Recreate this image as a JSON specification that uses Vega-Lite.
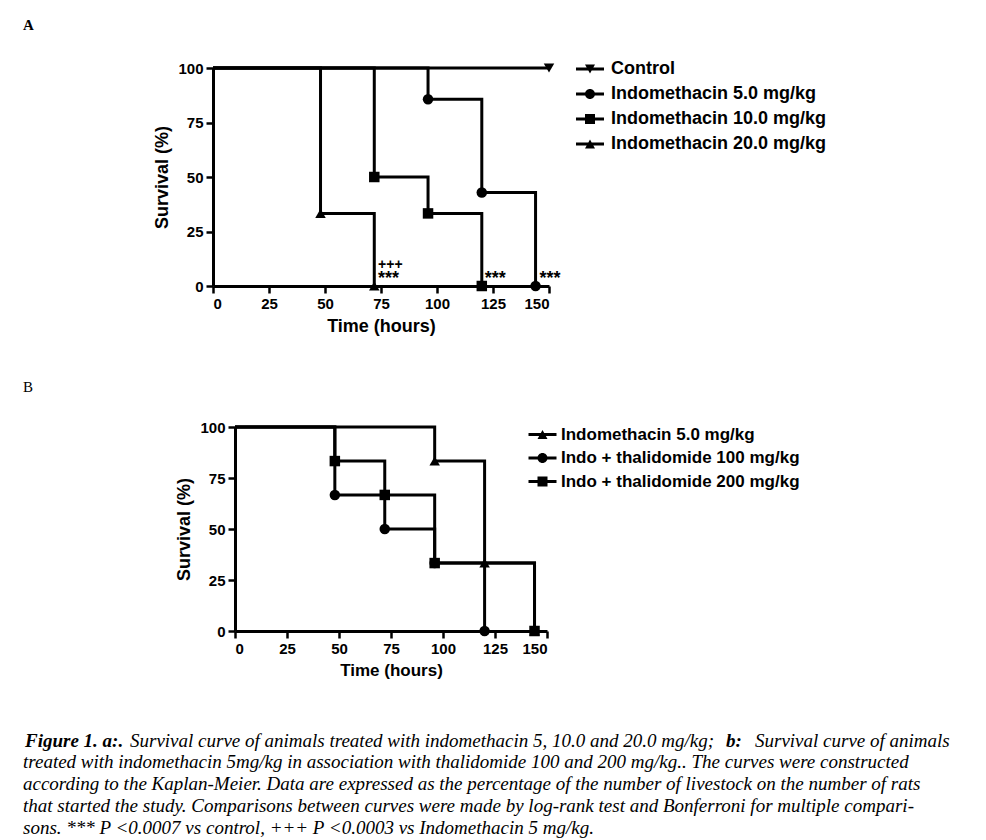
{
  "$schema": "https://vega.github.io/schema/vega-lite/v6.json",
  "padding": {"left": 23, "top": 18, "right": 5, "bottom": 5},
  "spacing": 45,
  "config": {
    "view": {"stroke": null},
    "axis": {"grid": false, "domainColor": "black", "domainWidth": 3, "tickColor": "black", "tickWidth": 2.5, "tickSize": 7, "labelFont": "Liberation Sans", "labelFontWeight": "bold", "labelFontSize": 15, "labelColor": "black", "labelPadding": 3, "titleFont": "Liberation Sans", "titleFontWeight": "bold", "titleFontSize": 18, "titleColor": "black", "titlePadding": 6},
    "legend": {"padding": 0, "labelFont": "Liberation Sans", "labelFontWeight": "bold", "labelColor": "black", "labelLimit": 400, "symbolStrokeWidth": 0, "symbolFillColor": "black"},
    "title": {"font": "Liberation Serif", "color": "black", "anchor": "start"}
  },
  "datasets": {
    "curvesA": [
      {"series": "Control", "time": 0, "surv": 100},
      {"series": "Control", "time": 150, "surv": 100},
      {"series": "Indomethacin 5.0 mg/kg", "time": 0, "surv": 100},
      {"series": "Indomethacin 5.0 mg/kg", "time": 96, "surv": 85.7},
      {"series": "Indomethacin 5.0 mg/kg", "time": 120, "surv": 42.9},
      {"series": "Indomethacin 5.0 mg/kg", "time": 144, "surv": 0},
      {"series": "Indomethacin 10.0 mg/kg", "time": 0, "surv": 100},
      {"series": "Indomethacin 10.0 mg/kg", "time": 72, "surv": 50},
      {"series": "Indomethacin 10.0 mg/kg", "time": 96, "surv": 33.3},
      {"series": "Indomethacin 10.0 mg/kg", "time": 120, "surv": 0},
      {"series": "Indomethacin 20.0 mg/kg", "time": 0, "surv": 100},
      {"series": "Indomethacin 20.0 mg/kg", "time": 48, "surv": 33.3},
      {"series": "Indomethacin 20.0 mg/kg", "time": 72, "surv": 0}
    ],
    "annotA": [
      {"time": 73.7, "surv": 7.8, "label": "+++"},
      {"time": 73.7, "surv": 0.8, "label": "***"},
      {"time": 121.3, "surv": 0.8, "label": "***"},
      {"time": 145.8, "surv": 0.8, "label": "***"}
    ],
    "curvesB": [
      {"series": "Indomethacin 5.0 mg/kg", "time": 0, "surv": 100},
      {"series": "Indomethacin 5.0 mg/kg", "time": 96, "surv": 83.3},
      {"series": "Indomethacin 5.0 mg/kg", "time": 120, "surv": 33.3},
      {"series": "Indomethacin 5.0 mg/kg", "time": 144, "surv": 0},
      {"series": "Indo + thalidomide 100 mg/kg", "time": 0, "surv": 100},
      {"series": "Indo + thalidomide 100 mg/kg", "time": 48, "surv": 66.7},
      {"series": "Indo + thalidomide 100 mg/kg", "time": 72, "surv": 50},
      {"series": "Indo + thalidomide 100 mg/kg", "time": 96, "surv": 33.3},
      {"series": "Indo + thalidomide 100 mg/kg", "time": 120, "surv": 0},
      {"series": "Indo + thalidomide 200 mg/kg", "time": 0, "surv": 100},
      {"series": "Indo + thalidomide 200 mg/kg", "time": 48, "surv": 83.3},
      {"series": "Indo + thalidomide 200 mg/kg", "time": 72, "surv": 66.7},
      {"series": "Indo + thalidomide 200 mg/kg", "time": 96, "surv": 33.3},
      {"series": "Indo + thalidomide 200 mg/kg", "time": 144, "surv": 0}
    ],
    "caption": [
      {"line": 1, "part": "fig", "text": "Figure 1. a:."},
      {"line": 1, "part": "t1", "text": "Survival curve of animals treated with indomethacin 5, 10.0 and 20.0 mg/kg;"},
      {"line": 1, "part": "b", "text": "b:"},
      {"line": 1, "part": "t2", "text": "Survival curve of animals"},
      {"line": 2, "part": "body", "text": "treated with indomethacin 5mg/kg in association with thalidomide 100 and 200 mg/kg.. The curves were constructed"},
      {"line": 3, "part": "body", "text": "according to the Kaplan-Meier. Data are expressed as the percentage of the number of livestock on the number of rats"},
      {"line": 4, "part": "body", "text": "that started the study. Comparisons between curves were made by log-rank test and Bonferroni for multiple compari-"},
      {"line": 5, "part": "body", "text": "sons. *** P <0.0007 vs control, +++ P <0.0003 vs Indomethacin 5 mg/kg."}
    ]
  },
  "vconcat": [
    {
      "title": {"text": "A", "fontSize": 15, "fontWeight": "bold", "dx": -190, "offset": 27, "frame": "group"},
      "width": 336,
      "height": 218,
      "layer": [
        {
          "data": {"name": "curvesA"},
          "mark": {"type": "line", "interpolate": "step-after", "color": "black", "strokeWidth": 3},
          "encoding": {
            "x": {"field": "time", "type": "quantitative", "scale": {"domain": [0, 150], "nice": false}, "axis": {"values": [0, 25, 50, 75, 100, 125, 150], "title": "Time (hours)"}},
            "y": {"field": "surv", "type": "quantitative", "scale": {"domain": [0, 100]}, "axis": {"values": [0, 25, 50, 75, 100], "title": "Survival (%)"}},
            "detail": {"field": "series"}
          }
        },
        {
          "data": {"name": "curvesA"},
          "transform": [{"filter": "datum.time > 0"}],
          "mark": {"type": "point", "filled": true, "color": "black", "size": 110, "opacity": 1},
          "encoding": {
            "x": {"field": "time", "type": "quantitative"},
            "y": {"field": "surv", "type": "quantitative"},
            "shape": {"field": "series", "type": "nominal", "scale": {"domain": ["Control", "Indomethacin 5.0 mg/kg", "Indomethacin 10.0 mg/kg", "Indomethacin 20.0 mg/kg"], "range": ["triangle-down", "circle", "square", "triangle-up"]}, "legend": null}
          }
        },
        {
          "data": {"name": "curvesA"},
          "transform": [{"filter": "false"}],
          "mark": {"type": "point", "filled": true, "color": "black", "size": 100, "opacity": 1},
          "encoding": {
            "shape": {"field": "series", "type": "nominal",
              "scale": {"domain": ["Control", "Indomethacin 5.0 mg/kg", "Indomethacin 10.0 mg/kg", "Indomethacin 20.0 mg/kg"],
                "range": ["M-2.8,-0.3H2.8V0.3H-2.8Z M-1,-0.9H1L0,0.9Z", "M-2.8,-0.3H2.8V0.3H-2.8Z M-1,0A1,1,0,1,1,1,0A1,1,0,1,1,-1,0Z", "M-2.8,-0.3H2.8V0.3H-2.8Z M-1,-1H1V1H-1Z", "M-2.8,-0.3H2.8V0.3H-2.8Z M-1,0.9L0,-0.9L1,0.9Z"]},
              "legend": {"title": null, "orient": "none", "legendX": 368, "legendY": -8, "labelFontSize": 18, "labelOffset": 12, "rowPadding": 7, "symbolSize": 100}}
          }
        },
        {
          "data": {"name": "annotA"},
          "transform": [{"filter": "datum.label == '+++'"}],
          "mark": {"type": "text", "align": "left", "baseline": "alphabetic", "font": "Liberation Sans", "fontWeight": "bold", "fontSize": 14, "color": "black"},
          "encoding": {
            "x": {"field": "time", "type": "quantitative"},
            "y": {"field": "surv", "type": "quantitative"},
            "text": {"field": "label"}
          }
        },
        {
          "data": {"name": "annotA"},
          "transform": [{"filter": "datum.label == '***'"}],
          "mark": {"type": "text", "align": "left", "baseline": "alphabetic", "font": "Liberation Sans", "fontWeight": "bold", "fontSize": 18, "color": "black"},
          "encoding": {
            "x": {"field": "time", "type": "quantitative"},
            "y": {"field": "surv", "type": "quantitative"},
            "text": {"field": "label"}
          }
        }
      ],
      "resolve": {"scale": {"shape": "independent"}, "legend": {"shape": "independent"}}
    },
    {
      "title": {"text": "B", "fontSize": 15, "fontWeight": "normal", "dx": -190, "offset": 25, "frame": "group"},
      "width": 334,
      "height": 204,
      "layer": [
        {
          "data": {"name": "curvesB"},
          "mark": {"type": "line", "interpolate": "step-after", "color": "black", "strokeWidth": 3},
          "encoding": {
            "x": {"field": "time", "type": "quantitative", "scale": {"domain": [0, 150], "nice": false, "range": [22, 334]}, "axis": {"values": [0, 25, 50, 75, 100, 125, 150], "title": "Time (hours)", "titleFontSize": 17}},
            "y": {"field": "surv", "type": "quantitative", "scale": {"domain": [0, 100]}, "axis": {"values": [0, 25, 50, 75, 100], "title": "Survival (%)", "offset": -22}},
            "detail": {"field": "series"}
          }
        },
        {
          "data": {"name": "curvesB"},
          "transform": [{"filter": "datum.time > 0"}],
          "mark": {"type": "point", "filled": true, "color": "black", "size": 110, "opacity": 1},
          "encoding": {
            "x": {"field": "time", "type": "quantitative"},
            "y": {"field": "surv", "type": "quantitative"},
            "shape": {"field": "series", "type": "nominal", "scale": {"domain": ["Indomethacin 5.0 mg/kg", "Indo + thalidomide 100 mg/kg", "Indo + thalidomide 200 mg/kg"], "range": ["triangle-up", "circle", "square"]}, "legend": null}
          }
        },
        {
          "data": {"name": "curvesB"},
          "transform": [{"filter": "false"}],
          "mark": {"type": "point", "filled": true, "color": "black", "size": 100, "opacity": 1},
          "encoding": {
            "shape": {"field": "series", "type": "nominal",
              "scale": {"domain": ["Indomethacin 5.0 mg/kg", "Indo + thalidomide 100 mg/kg", "Indo + thalidomide 200 mg/kg"],
                "range": ["M-2.8,-0.3H2.8V0.3H-2.8Z M-1,0.9L0,-0.9L1,0.9Z", "M-2.8,-0.3H2.8V0.3H-2.8Z M-1,0A1,1,0,1,1,1,0A1,1,0,1,1,-1,0Z", "M-2.8,-0.3H2.8V0.3H-2.8Z M-1,-1H1V1H-1Z"]},
              "legend": {"title": null, "orient": "none", "legendX": 321, "legendY": -1, "labelFontSize": 17, "labelOffset": 10, "rowPadding": 5.5, "symbolSize": 100}}
          }
        }
      ],
      "resolve": {"scale": {"shape": "independent"}, "legend": {"shape": "independent"}}
    },
    {
      "width": 700,
      "height": {"step": 21.7},
      "data": {"name": "caption"},
      "encoding": {
        "y": {"field": "line", "type": "ordinal", "scale": {"type": "point", "padding": 0.82}, "axis": null},
        "text": {"field": "text"}
      },
      "layer": [
        {"transform": [{"filter": "datum.part == 'body'"}], "mark": {"type": "text", "align": "left", "baseline": "middle", "font": "Liberation Serif", "fontStyle": "italic", "fontSize": 19, "color": "black"}, "encoding": {"x": {"value": -190}}},
        {"transform": [{"filter": "datum.part == 'fig'"}], "mark": {"type": "text", "align": "left", "baseline": "middle", "font": "Liberation Serif", "fontStyle": "italic", "fontWeight": "bold", "fontSize": 19, "color": "black"}, "encoding": {"x": {"value": -188}}},
        {"transform": [{"filter": "datum.part == 't1'"}], "mark": {"type": "text", "align": "left", "baseline": "middle", "font": "Liberation Serif", "fontStyle": "italic", "fontSize": 19, "color": "black"}, "encoding": {"x": {"value": -83}}},
        {"transform": [{"filter": "datum.part == 'b'"}], "mark": {"type": "text", "align": "left", "baseline": "middle", "font": "Liberation Serif", "fontStyle": "italic", "fontWeight": "bold", "fontSize": 19, "color": "black"}, "encoding": {"x": {"value": 513}}},
        {"transform": [{"filter": "datum.part == 't2'"}], "mark": {"type": "text", "align": "left", "baseline": "middle", "font": "Liberation Serif", "fontStyle": "italic", "fontSize": 19, "color": "black"}, "encoding": {"x": {"value": 542}}}
      ]
    }
  ]
}
